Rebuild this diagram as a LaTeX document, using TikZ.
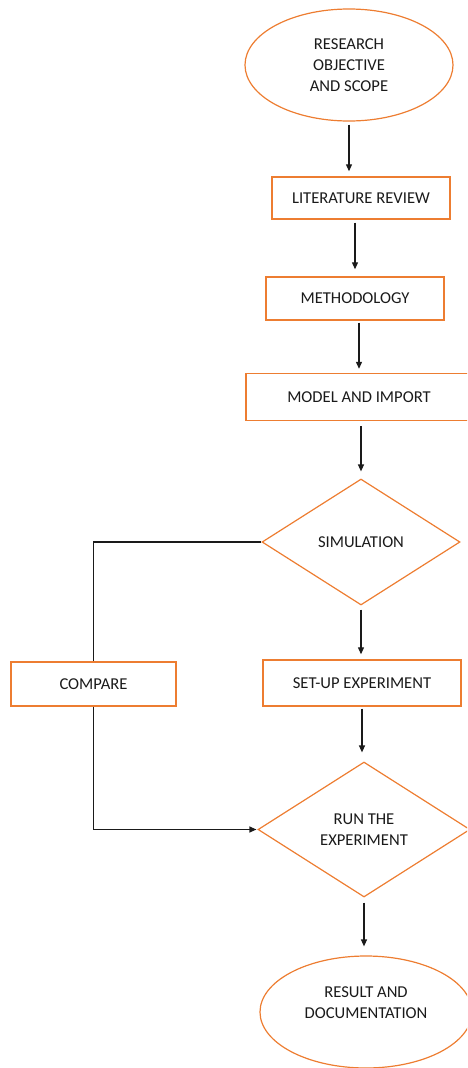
\documentclass[tikz,border=0pt]{standalone}
\usepackage{fontspec}
\setmainfont{Carlito}
\usetikzlibrary{shapes.geometric,arrows.meta}
\definecolor{boxorange}{HTML}{ED7D31}
\definecolor{ink}{HTML}{1A1A1A}
\begin{document}
\begin{tikzpicture}[x=1pt,y=-1pt,
  every node/.style={font=\fontsize{16.6}{20.8}\selectfont, text=ink, align=center, inner sep=0pt},
  boxnode/.style={draw=boxorange, line width=1.4pt, rectangle},
  ovalnode/.style={draw=boxorange, line width=1.2pt, ellipse},
  decnode/.style={draw=boxorange, line width=1.2pt, diamond},
  flow/.style={draw=ink, line width=1.2pt, -{Triangle[length=7pt,width=6pt]}},
  plainline/.style={draw=ink, line width=1.2pt}]
\useasboundingbox (0,0) rectangle (467,1068);
\clip (0,0) rectangle (467,1068);

\node[ovalnode, minimum width=208pt, minimum height=112pt] (e1) at (349,65) {RESEARCH\\OBJECTIVE\\AND SCOPE};
\node[boxnode, minimum width=178pt, minimum height=42pt] (lit) at (361,198) {LITERATURE REVIEW};
\node[boxnode, minimum width=178pt, minimum height=43pt] (meth) at (355,298.5) {METHODOLOGY};
\node[boxnode, minimum width=226pt, minimum height=47pt] (model) at (359,397) {MODEL AND IMPORT};
\node[decnode, minimum width=198pt, minimum height=126pt] (sim) at (361,542) {SIMULATION};
\node[boxnode, minimum width=198pt, minimum height=46pt] (setup) at (362,683) {SET-UP EXPERIMENT};
\node[boxnode, minimum width=165pt, minimum height=44pt] (cmp) at (93.5,684) {COMPARE};
\node[decnode, minimum width=212pt, minimum height=135pt] (run) at (364,829.5) {RUN THE\\EXPERIMENT};
\node[ovalnode, minimum width=212pt, minimum height=112pt] (e2) at (366,1012) {RESULT AND\\DOCUMENTATION\\[-8pt]\strut};

\draw[flow, shorten <=3pt, shorten >=5pt] (e1.south) -- (e1.south |- lit.north);
\draw[flow, shorten <=3pt, shorten >=7pt] (meth.north |- lit.south) -- (meth.north);
\draw[flow, shorten <=2pt, shorten >=4pt] (model.north |- meth.south) -- (model.north);
\draw[flow, shorten <=5pt, shorten >=7pt] (model.south -| sim.north) -- (sim.north);
\draw[flow, shorten <=4pt, shorten >=5pt] (sim.south) -- (sim.south |- setup.north);
\draw[flow, shorten <=2pt, shorten >=9pt] (setup.south) -- (setup.south |- run.north);
\draw[flow, shorten <=5pt, shorten >=9pt] (run.south) -- (run.south |- e2.north);

\draw[plainline] (sim.west) -| (cmp.north);
\draw[flow, shorten >=1pt] (cmp.south) |- (run.west);
\end{tikzpicture}
\end{document}
